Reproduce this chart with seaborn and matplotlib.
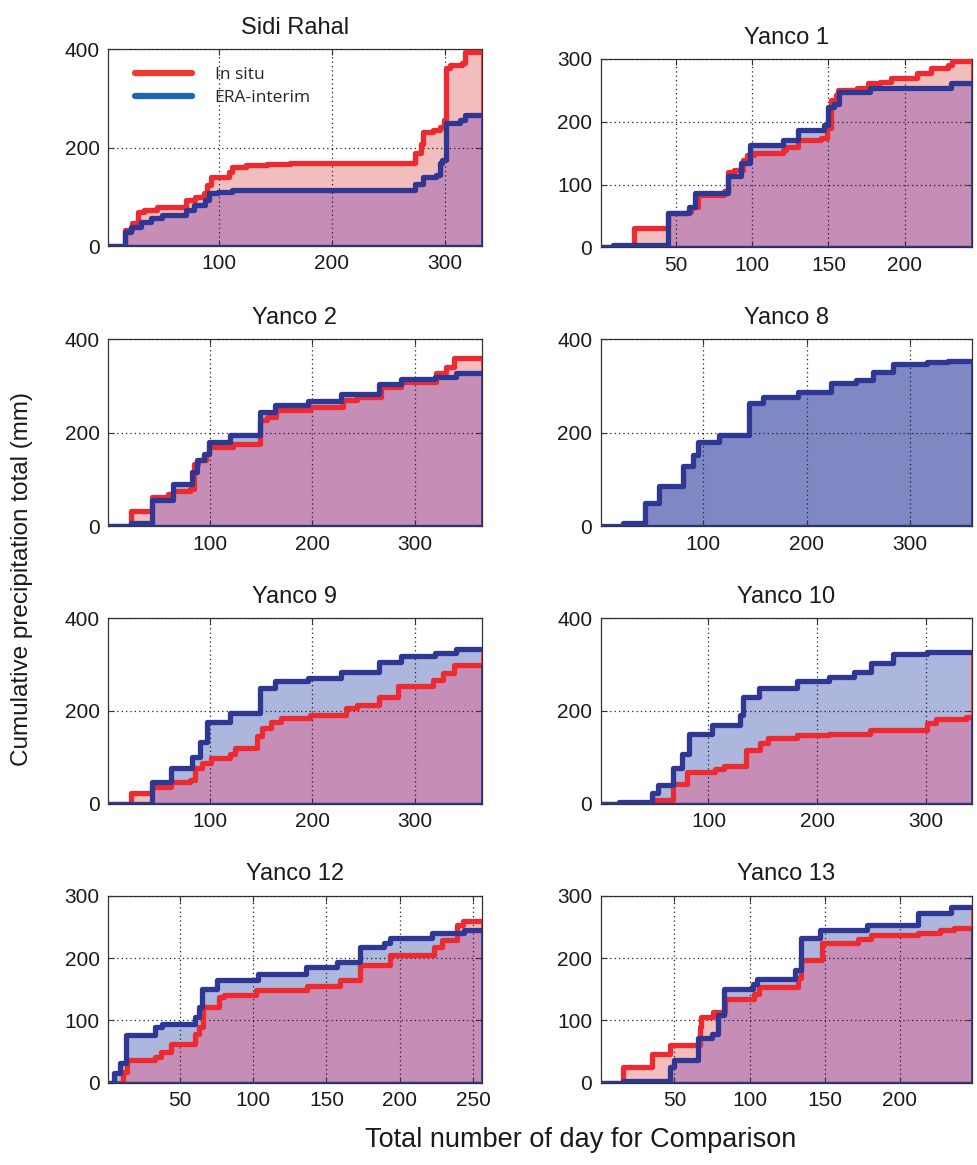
import numpy as np
import pandas as pd
import matplotlib
matplotlib.use("Agg")
import matplotlib.pyplot as plt
import seaborn as sns
from matplotlib.lines import Line2D

# ---------------- data (cumulative precipitation, step breakpoints) ----------------
stations = ["Sidi Rahal", "Yanco 1", "Yanco 2", "Yanco 8",
            "Yanco 9", "Yanco 10", "Yanco 12", "Yanco 13"]

sidi_insitu_days = [2, 17, 23, 29, 34, 45, 71, 79, 87, 90, 93, 109, 112, 124, 143, 163,
                    274, 279, 281, 290, 296, 299, 301, 305, 315, 318, 333]
sidi_insitu_mm = [0, 32, 46, 70, 73, 80, 93, 100, 107, 124, 141, 151, 161, 164, 166, 169,
                  188, 208, 232, 235, 242, 256, 361, 367, 371, 395, 395]
sidi_era_days = [2, 17, 22, 31, 40, 50, 71, 78, 88, 91, 99, 112, 274, 281, 292, 296, 298,
                 301, 314, 318, 333]
sidi_era_mm = [0, 29, 39, 49, 56, 63, 73, 83, 93, 107, 110, 114, 127, 141, 144, 168, 175,
               249, 256, 266, 266]

y1_insitu_days = [1, 23, 45, 58, 60, 65, 82, 84, 88, 94, 97, 101, 120, 122, 130, 145, 149,
                  152, 155, 156, 169, 176, 184, 191, 208, 217, 228, 231, 244]
y1_insitu_mm = [0, 30, 54, 57, 65, 83, 89, 120, 123, 139, 147, 150, 155, 160, 171, 174, 190,
                235, 243, 251, 253, 261, 264, 269, 277, 285, 290, 296, 296]
y1_era_days = [1, 9, 45, 59, 63, 84, 93, 99, 120, 130, 147, 150, 154, 157, 177, 230, 244]
y1_era_mm = [0, 4, 54, 65, 87, 113, 134, 163, 171, 187, 195, 224, 229, 248, 253, 261, 261]

y2_insitu_days = [1, 23, 44, 59, 64, 81, 85, 89, 96, 99, 123, 149, 156, 165, 198, 230, 243,
                  267, 286, 320, 330, 338, 365]
y2_insitu_mm = [0, 34, 63, 70, 76, 81, 134, 141, 155, 170, 177, 227, 234, 248, 255, 270, 277,
                298, 309, 327, 341, 359, 359]
y2_era_days = [1, 23, 44, 64, 83, 88, 94, 99, 120, 149, 164, 196, 228, 265, 286, 319, 340, 365]
y2_era_mm = [0, 7, 56, 91, 116, 141, 155, 180, 195, 245, 259, 267, 282, 305, 314, 319, 327, 327]

y8_insitu_days = []
y8_insitu_mm = []
y8_era_days = [1, 23, 44, 57, 81, 90, 95, 115, 144, 158, 192, 224, 248, 264, 284, 316, 337, 360]
y8_era_mm = [0, 7, 51, 87, 128, 153, 181, 195, 263, 277, 288, 307, 313, 330, 346, 350, 353, 353]

y9_insitu_days = [1, 23, 44, 62, 81, 86, 93, 101, 120, 125, 146, 151, 160, 169, 198, 233, 243,
                  265, 283, 317, 327, 338, 365]
y9_insitu_mm = [0, 22, 36, 47, 51, 76, 87, 98, 108, 119, 145, 163, 177, 184, 192, 206, 213,
                231, 253, 268, 282, 300, 300]
y9_era_days = [1, 44, 62, 83, 91, 97, 120, 149, 164, 196, 228, 265, 286, 319, 340, 365]
y9_era_mm = [0, 47, 76, 101, 134, 177, 195, 250, 264, 271, 284, 307, 318, 325, 333, 333]

y10_insitu_days = [1, 50, 67, 80, 106, 114, 134, 147, 155, 181, 211, 248, 301, 309, 336, 342]
y10_insitu_mm = [0, 7, 43, 68, 74, 81, 115, 130, 141, 148, 151, 159, 173, 182, 187, 187]
y10_era_days = [1, 18, 48, 54, 67, 76, 82, 103, 129, 132, 146, 181, 211, 234, 249, 269, 301, 342]
y10_era_mm = [0, 4, 23, 40, 76, 108, 151, 169, 191, 231, 249, 265, 274, 285, 304, 323, 328, 328]

y12_insitu_days = [1, 11, 14, 33, 37, 44, 60, 63, 66, 77, 80, 102, 137, 159, 173, 193, 223,
                   229, 239, 243, 256]
y12_insitu_mm = [0, 18, 36, 42, 50, 62, 79, 90, 122, 138, 141, 149, 155, 165, 189, 205, 218,
                 229, 253, 260, 260]
y12_era_days = [1, 5, 9, 13, 33, 38, 60, 63, 65, 75, 103, 136, 157, 173, 189, 193, 222, 244, 256]
y12_era_mm = [0, 15, 31, 76, 90, 95, 106, 122, 151, 165, 175, 186, 194, 218, 224, 232, 240, 245, 245]

y13_insitu_days = [1, 16, 35, 47, 67, 68, 76, 84, 103, 106, 132, 134, 148, 172, 181, 212, 227,
                   236, 248]
y13_insitu_mm = [0, 26, 46, 60, 90, 106, 114, 135, 143, 154, 168, 197, 224, 230, 237, 240, 245,
                 249, 249]
y13_era_days = [1, 16, 47, 50, 66, 75, 79, 83, 102, 105, 130, 134, 147, 178, 212, 234, 248]
y13_era_mm = [0, 3, 26, 36, 71, 79, 109, 151, 159, 167, 181, 232, 245, 253, 272, 282, 282]

insitu_days = [sidi_insitu_days, y1_insitu_days, y2_insitu_days, y8_insitu_days,
               y9_insitu_days, y10_insitu_days, y12_insitu_days, y13_insitu_days]
insitu_mm = [sidi_insitu_mm, y1_insitu_mm, y2_insitu_mm, y8_insitu_mm,
             y9_insitu_mm, y10_insitu_mm, y12_insitu_mm, y13_insitu_mm]
era_days = [sidi_era_days, y1_era_days, y2_era_days, y8_era_days,
            y9_era_days, y10_era_days, y12_era_days, y13_era_days]
era_mm = [sidi_era_mm, y1_era_mm, y2_era_mm, y8_era_mm,
          y9_era_mm, y10_era_mm, y12_era_mm, y13_era_mm]

x_ticks = [[100, 200, 300], [50, 100, 150, 200], [100, 200, 300], [100, 200, 300],
           [100, 200, 300], [100, 200, 300], [50, 100, 150, 200, 250], [50, 100, 150, 200]]
y_ticks = [[0, 200, 400], [0, 100, 200, 300], [0, 200, 400], [0, 200, 400],
           [0, 200, 400], [0, 200, 400], [0, 100, 200, 300], [0, 100, 200, 300]]

legend_labels = ["In situ", "ERA-interim"]

# ---------------- style ----------------
RED = "#EC2A30"
BLUE = "#2E3793"
PINK = "#F2BDBD"
LBLUE = "#ADB6DC"
PURPLE = "#C68DB6"
DBLUE = "#7E89C3"

sns.set_theme(style="white")
plt.rcParams["font.family"] = ["Liberation Sans", "DejaVu Sans"]

fig = plt.figure(figsize=(9.78, 11.65), dpi=100)

# axes rectangles (left, bottom, width, height) in figure fractions
rects = [
    (0.1104, 0.7888, 0.3824, 0.1691), (0.6142, 0.7877, 0.3797, 0.1617),
    (0.1104, 0.5481, 0.3824, 0.1609), (0.6142, 0.5481, 0.3797, 0.1609),
    (0.1104, 0.3103, 0.3824, 0.1588), (0.6142, 0.3103, 0.3797, 0.1588),
    (0.1104, 0.0706, 0.3824, 0.1605), (0.6142, 0.0706, 0.3797, 0.1605),
]


def step_on_grid(days, vals, grid):
    days = np.asarray(days)
    vals = np.asarray(vals, dtype=float)
    idx = np.searchsorted(days, grid, side="right") - 1
    idx = np.clip(idx, 0, len(vals) - 1)
    return vals[idx]


for i, name in enumerate(stations):
    ax = fig.add_axes(rects[i])
    ed = era_days[i]
    grid = np.arange(ed[0], ed[-1] + 1)
    era = step_on_grid(ed, era_mm[i], grid)
    has_insitu = len(insitu_days[i]) > 0
    if has_insitu:
        ins = step_on_grid(insitu_days[i], insitu_mm[i], grid)
        low = np.minimum(ins, era)
        ax.fill_between(grid, 0, ins, step="post", color=PINK, lw=0, zorder=1)
        ax.fill_between(grid, 0, era, step="post", color=LBLUE, lw=0, zorder=1)
        ax.fill_between(grid, 0, low, step="post", color=PURPLE, lw=0, zorder=1)
    else:
        ax.fill_between(grid, 0, era, step="post", color=DBLUE, lw=0, zorder=1)

    df = pd.DataFrame({"day": grid, "era": era})
    if has_insitu:
        df["insitu"] = ins
        sns.lineplot(data=df, x="day", y="insitu", ax=ax, color=RED, lw=3.8,
                     drawstyle="steps-post", errorbar=None, zorder=3)
        ax.plot([grid[-1], grid[-1]], [era[-1], ins[-1]], color=RED, lw=2, zorder=3)
    sns.lineplot(data=df, x="day", y="era", ax=ax, color=BLUE, lw=3.8,
                 drawstyle="steps-post", errorbar=None, zorder=4)
    # patch edges: baseline and right-hand drop
    ax.plot([grid[0], grid[-1]], [0, 0], color=BLUE, lw=2.5, zorder=4)
    ax.plot([grid[-1], grid[-1]], [0, min(era[-1], ins[-1]) if has_insitu else era[-1]],
            color=BLUE, lw=2, zorder=4)

    ax.set_xlim(grid[0], grid[-1])
    ax.set_ylim(y_ticks[i][0], y_ticks[i][-1])
    ax.set_xticks(x_ticks[i])
    ax.set_yticks(y_ticks[i])
    ax.set_xlabel("")
    ax.set_ylabel("")
    ax.grid(True, linestyle=(0, (1, 2.5)), color="#222222", lw=0.9)
    ax.set_axisbelow(False)
    ax.tick_params(direction="in", length=4, width=0.8, top=True, right=True,
                   bottom=True, left=True, labelsize=15, labelcolor="#1a1a1a",
                   color="#333333", pad=6)
    for s in ax.spines.values():
        s.set_visible(True)
        s.set_color("#333333")
        s.set_linewidth(0.9)
    ax.set_title(name, fontsize=17, pad=11, color="#1a1a1a")

    if i == 0:
        handles = [Line2D([], [], color="#EE3A33", lw=4.5),
                   Line2D([], [], color="#1F64AF", lw=4.5)]
        leg = ax.legend(handles, legend_labels, loc="upper left",
                        bbox_to_anchor=(0.03, 0.99), frameon=False,
                        handlelength=3.3, handletextpad=1.3, labelspacing=0.4,
                        prop={"family": ["Open Sans", "DejaVu Sans"], "size": 12.5})

fig.text(0.0225, 0.503, "Cumulative precipitation total (mm)", rotation=90,
         ha="center", va="center", fontsize=17.5, color="#1a1a1a")
fig.text(0.594, 0.0215, "Total number of day for Comparison",
         ha="center", va="center", fontsize=19.5, color="#1a1a1a")

fig.savefig("out.png", dpi=100)
